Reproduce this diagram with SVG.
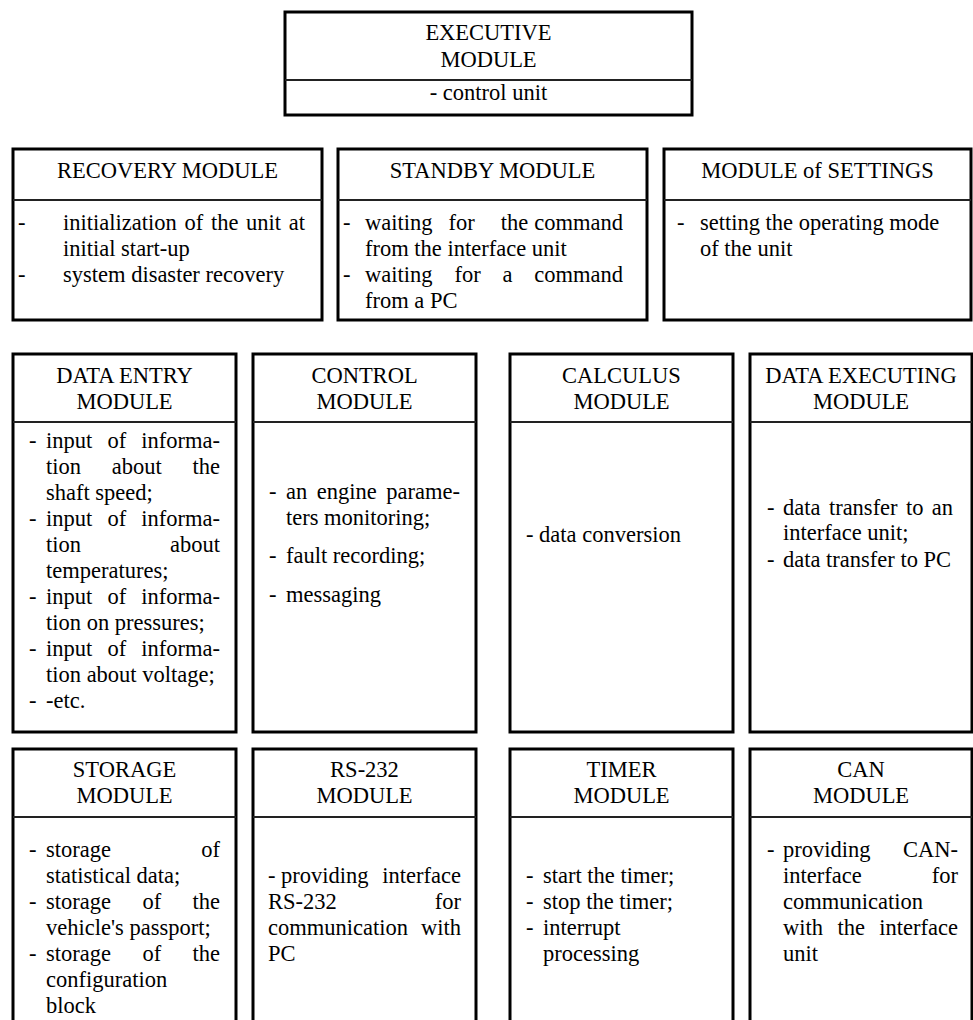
<svg xmlns="http://www.w3.org/2000/svg" width="973" height="1020" viewBox="0 0 973 1020">
<style>
  .box { fill: #ffffff; stroke: #000000; stroke-width: 3; }
  .div { stroke: #222222; stroke-width: 2; }
  text { font-family: 'Liberation Serif', 'DejaVu Serif', serif; font-size: 22.5px; fill: #000000; }
  .c { text-anchor: middle; }
  .e { text-anchor: end; }
</style>
<rect width="973" height="1020" fill="#ffffff"/>
<g id="connectors"></g>

<g id="executive">
  <rect class="box" x="285" y="12" width="407" height="103"/>
  <line class="div" x1="285" y1="80" x2="692" y2="80"/>
  <text class="c" x="488.5" y="40">EXECUTIVE</text>
  <text class="c" x="488.5" y="67">MODULE</text>
  <text class="c" x="488.5" y="100">- control unit</text>
</g>

<g id="recovery">
  <rect class="box" x="13" y="149" width="309" height="171"/>
  <line class="div" x1="13" y1="200" x2="322" y2="200"/>
  <text class="c" x="167.5" y="178">RECOVERY MODULE</text>
  <text x="18" y="230">-</text>
  <text x="63" y="230">initialization</text>
  <text x="184.5" y="230">of</text>
  <text x="210.9" y="230">the</text>
  <text x="246.1" y="230">unit</text>
  <text class="e" x="305" y="230">at</text>
  <text x="63" y="256">initial start-up</text>
  <text x="18" y="282">-</text>
  <text x="63" y="282">system disaster recovery</text>
</g>

<g id="standby">
  <rect class="box" x="338" y="149" width="309" height="171"/>
  <line class="div" x1="338" y1="200" x2="647" y2="200"/>
  <text class="c" x="492.5" y="178">STANDBY MODULE</text>
  <text x="343" y="230">-</text>
  <text x="365" y="230">waiting</text>
  <text x="448.5" y="230">for</text>
  <text x="500.7" y="230">the</text>
  <text class="e" x="623" y="230">command</text>
  <text x="365" y="256">from the interface unit</text>
  <text x="343" y="282">-</text>
  <text x="365" y="282">waiting</text>
  <text x="454.4" y="282">for</text>
  <text x="502.5" y="282">a</text>
  <text class="e" x="623" y="282">command</text>
  <text x="365" y="308">from a PC</text>
</g>

<g id="settings">
  <rect class="box" x="664" y="149" width="307" height="171"/>
  <line class="div" x1="664" y1="200" x2="971" y2="200"/>
  <text class="c" x="817.5" y="178">MODULE of SETTINGS</text>
  <text x="677" y="230">-</text>
  <text x="700" y="230">setting the operating mode</text>
  <text x="700" y="256">of the unit</text>
</g>

<g id="data-entry">
  <rect class="box" x="13" y="354" width="223" height="378"/>
  <line class="div" x1="13" y1="422" x2="236" y2="422"/>
  <text class="c" x="124.5" y="383">DATA ENTRY</text>
  <text class="c" x="124.5" y="409">MODULE</text>
  <text x="29" y="448">-</text>
  <text x="46" y="448">input</text>
  <text x="107.4" y="448">of</text>
  <text class="e" x="220" y="448">informa-</text>
  <text x="46" y="474">tion</text>
  <text x="111.7" y="474">about</text>
  <text class="e" x="220" y="474">the</text>
  <text x="46" y="500">shaft speed;</text>
  <text x="29" y="526">-</text>
  <text x="46" y="526">input</text>
  <text x="107.4" y="526">of</text>
  <text class="e" x="220" y="526">informa-</text>
  <text x="46" y="552">tion</text>
  <text class="e" x="220" y="552">about</text>
  <text x="46" y="578">temperatures;</text>
  <text x="29" y="604">-</text>
  <text x="46" y="604">input</text>
  <text x="107.4" y="604">of</text>
  <text class="e" x="220" y="604">informa-</text>
  <text x="46" y="630">tion on pressures;</text>
  <text x="29" y="656">-</text>
  <text x="46" y="656">input</text>
  <text x="107.4" y="656">of</text>
  <text class="e" x="220" y="656">informa-</text>
  <text x="46" y="682">tion about voltage;</text>
  <text x="29" y="708">-</text>
  <text x="46" y="708">-etc.</text>
</g>

<g id="control">
  <rect class="box" x="253" y="354" width="223" height="378"/>
  <line class="div" x1="253" y1="422" x2="476" y2="422"/>
  <text class="c" x="364.5" y="383">CONTROL</text>
  <text class="c" x="364.5" y="409">MODULE</text>
  <text x="269" y="499">-</text>
  <text x="286" y="499">an</text>
  <text x="316.7" y="499">engine</text>
  <text class="e" x="460" y="499">parame-</text>
  <text x="286" y="525">ters monitoring;</text>
  <text x="269" y="563">-</text>
  <text x="286" y="563">fault recording;</text>
  <text x="269" y="602">-</text>
  <text x="286" y="602">messaging</text>
</g>

<g id="calculus">
  <rect class="box" x="510" y="354" width="223" height="378"/>
  <line class="div" x1="510" y1="422" x2="733" y2="422"/>
  <text class="c" x="621.5" y="383">CALCULUS</text>
  <text class="c" x="621.5" y="409">MODULE</text>
  <text x="526" y="542">- data conversion</text>
</g>

<g id="data-executing">
  <rect class="box" x="750" y="354" width="222" height="378"/>
  <line class="div" x1="750" y1="422" x2="972" y2="422"/>
  <text class="c" x="861" y="383">DATA EXECUTING</text>
  <text class="c" x="861" y="409">MODULE</text>
  <text x="767" y="515">-</text>
  <text x="783" y="515">data</text>
  <text x="828.9" y="515">transfer</text>
  <text x="906" y="515">to</text>
  <text class="e" x="953" y="515">an</text>
  <text x="783" y="540">interface unit;</text>
  <text x="767" y="567">-</text>
  <text x="783" y="567">data transfer to PC</text>
</g>

<g id="storage">
  <rect class="box" x="13" y="749" width="223" height="290"/>
  <line class="div" x1="13" y1="817" x2="236" y2="817"/>
  <text class="c" x="124.5" y="777">STORAGE</text>
  <text class="c" x="124.5" y="803">MODULE</text>
  <text x="29" y="857">-</text>
  <text x="46" y="857">storage</text>
  <text class="e" x="220" y="857">of</text>
  <text x="46" y="883">statistical data;</text>
  <text x="29" y="909">-</text>
  <text x="46" y="909">storage</text>
  <text x="142.4" y="909">of</text>
  <text class="e" x="220" y="909">the</text>
  <text x="46" y="935">vehicle's passport;</text>
  <text x="29" y="961">-</text>
  <text x="46" y="961">storage</text>
  <text x="142.4" y="961">of</text>
  <text class="e" x="220" y="961">the</text>
  <text x="46" y="987">configuration</text>
  <text x="46" y="1013">block</text>
</g>

<g id="rs232">
  <rect class="box" x="253" y="749" width="223" height="290"/>
  <line class="div" x1="253" y1="817" x2="476" y2="817"/>
  <text class="c" x="364.5" y="777">RS-232</text>
  <text class="c" x="364.5" y="803">MODULE</text>
  <text x="268" y="883">- providing</text>
  <text class="e" x="461" y="883">interface</text>
  <text x="268" y="909">RS-232</text>
  <text class="e" x="461" y="909">for</text>
  <text x="268" y="935">communication</text>
  <text class="e" x="461" y="935">with</text>
  <text x="268" y="961">PC</text>
</g>

<g id="timer">
  <rect class="box" x="510" y="749" width="223" height="290"/>
  <line class="div" x1="510" y1="817" x2="733" y2="817"/>
  <text class="c" x="621.5" y="777">TIMER</text>
  <text class="c" x="621.5" y="803">MODULE</text>
  <text x="526" y="883">-</text>
  <text x="543" y="883">start the timer;</text>
  <text x="526" y="909">-</text>
  <text x="543" y="909">stop the timer;</text>
  <text x="526" y="935">-</text>
  <text x="543" y="935">interrupt</text>
  <text x="543" y="961">processing</text>
</g>

<g id="can">
  <rect class="box" x="750" y="749" width="222" height="290"/>
  <line class="div" x1="750" y1="817" x2="972" y2="817"/>
  <text class="c" x="861" y="777">CAN</text>
  <text class="c" x="861" y="803">MODULE</text>
  <text x="767" y="857">-</text>
  <text x="783" y="857">providing</text>
  <text class="e" x="958" y="857">CAN-</text>
  <text x="783" y="883">interface</text>
  <text class="e" x="958" y="883">for</text>
  <text x="783" y="909">communication</text>
  <text x="783" y="935">with</text>
  <text x="837.4" y="935">the</text>
  <text class="e" x="958" y="935">interface</text>
  <text x="783" y="961">unit</text>
</g>
</svg>
